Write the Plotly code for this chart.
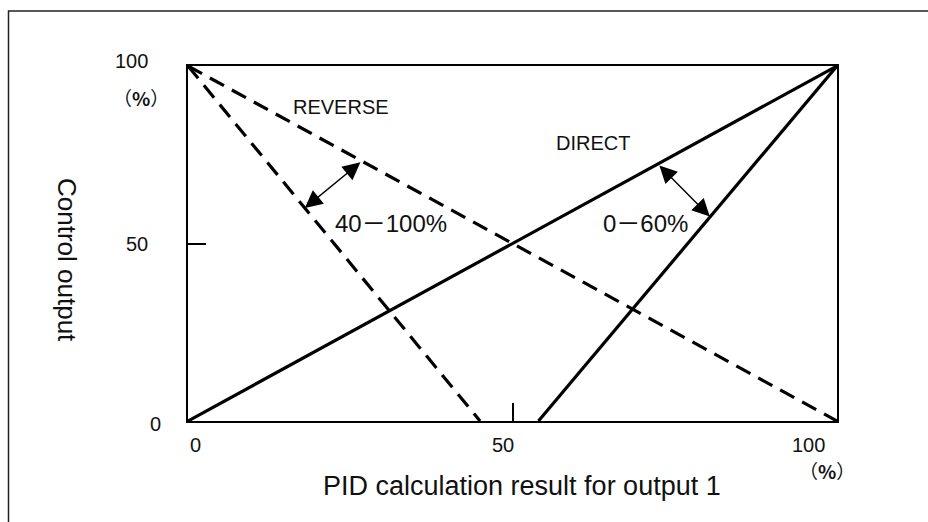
import plotly.graph_objects as go

# Output characteristics (PID result % -> control output %)
direct_x = [0, 100]
direct_y = [0, 100]
direct_narrow_x = [54, 100]
direct_narrow_y = [0, 100]
reverse_x = [0, 100]
reverse_y = [100, 0]
reverse_narrow_x = [0, 45]
reverse_narrow_y = [100, 0]

# Span arrows (start point, end point) in data units
reverse_arrow = [(26.8, 73.2), (18.0, 60.0)]
direct_arrow = [(72.4, 72.4), (80.4, 57.6)]

x_tick_labels = ["0", "50", "100"]
y_tick_labels = ["0", "50", "100"]
tick_values = [0, 50, 100]

W, H = 928, 522
L, R, T, B = 188, 91, 66, 101
PW, PH = W - L - R, H - T - B

FONT = "Liberation Sans, Arial, Noto Sans CJK JP, sans-serif"
CJK = "Noto Sans CJK JP, Liberation Sans, sans-serif"


def px(xp):
    return (xp - L) / PW


def py(yp):
    return (H - B - yp) / PH


fig = go.Figure()
line_solid = dict(color="black", width=3.2)
line_dash = dict(color="black", width=3.2, dash="16px,9px")
fig.add_trace(go.Scatter(x=direct_x, y=direct_y, mode="lines", line=line_solid))
fig.add_trace(go.Scatter(x=direct_narrow_x, y=direct_narrow_y, mode="lines", line=line_solid))
fig.add_trace(go.Scatter(x=reverse_x, y=reverse_y, mode="lines", line=line_dash))
fig.add_trace(go.Scatter(x=reverse_narrow_x, y=reverse_narrow_y, mode="lines", line=line_dash))

ann = []
for (x0, y0), (x1, y1) in (reverse_arrow, direct_arrow):
    ann.append(dict(x=x1, y=y1, ax=x0, ay=y0, xref="x", yref="y", axref="x", ayref="y",
                    text="", showarrow=True, arrowside="end+start",
                    arrowhead=2, startarrowhead=2, arrowsize=2.5, startarrowsize=2.5,
                    arrowwidth=1.4, arrowcolor="black", standoff=0, startstandoff=0))


def label(xp, yp, text, size, family=FONT, **kw):
    d = dict(x=px(xp), y=py(yp), xref="paper", yref="paper", text=text, showarrow=False,
             xanchor="center", yanchor="middle",
             font=dict(family=family, size=size, color="#111"))
    d.update(kw)
    return d


# tick labels
x_label_shift = [7, -10, -29]
for v, t, s in zip(tick_values, x_tick_labels, x_label_shift):
    ann.append(dict(x=v, y=py(445), xref="x", yref="paper", text=t, showarrow=False,
                    xanchor="center", yanchor="middle", xshift=s,
                    font=dict(family=FONT, size=20, color="#111")))
y_label_x = [155, 137, 131]
y_label_shift = [-3, 0, 5]
for v, t, xp, s in zip(tick_values, y_tick_labels, y_label_x, y_label_shift):
    ann.append(dict(x=px(xp), y=v, xref="paper", yref="y", text=t, showarrow=False,
                    xanchor="center", yanchor="middle", yshift=s,
                    font=dict(family=FONT, size=20, color="#111")))
ann.append(label(141, 97, "（<b>%</b>）", 19, family=CJK))
ann.append(label(827, 470, "（<b>%</b>）", 19, family=CJK))

# curve labels
ann.append(label(341, 107, "REVERSE", 20))
ann.append(label(593, 143, "DIRECT", 20))
ann.append(label(391, 223, "40－100%", 24))
ann.append(label(645, 223, "0－60%", 24))

# axis titles
ann.append(label(522, 486, "PID calculation result for output 1", 27))
ann.append(label(67, 260, "Control output", 26, textangle=90))

axis_common = dict(showgrid=False, zeroline=False, showline=True, linecolor="black",
                   linewidth=2, mirror=True, ticks="inside", tickvals=[50], ticklen=18,
                   tickwidth=2, tickcolor="black", showticklabels=False, fixedrange=True)

fig.update_layout(
    width=W, height=H,
    margin=dict(l=L, r=R, t=T, b=B),
    paper_bgcolor="white", plot_bgcolor="white",
    showlegend=False,
    xaxis=dict(range=[0, 100], **axis_common),
    yaxis=dict(range=[0, 100], **axis_common),
    annotations=ann,
    shapes=[dict(type="rect", xref="paper", yref="paper",
                 x0=px(8.5), x1=px(940), y0=py(540), y1=py(11),
                 line=dict(color="#222", width=1.5), layer="below")],
)

fig.write_html("out.html")
